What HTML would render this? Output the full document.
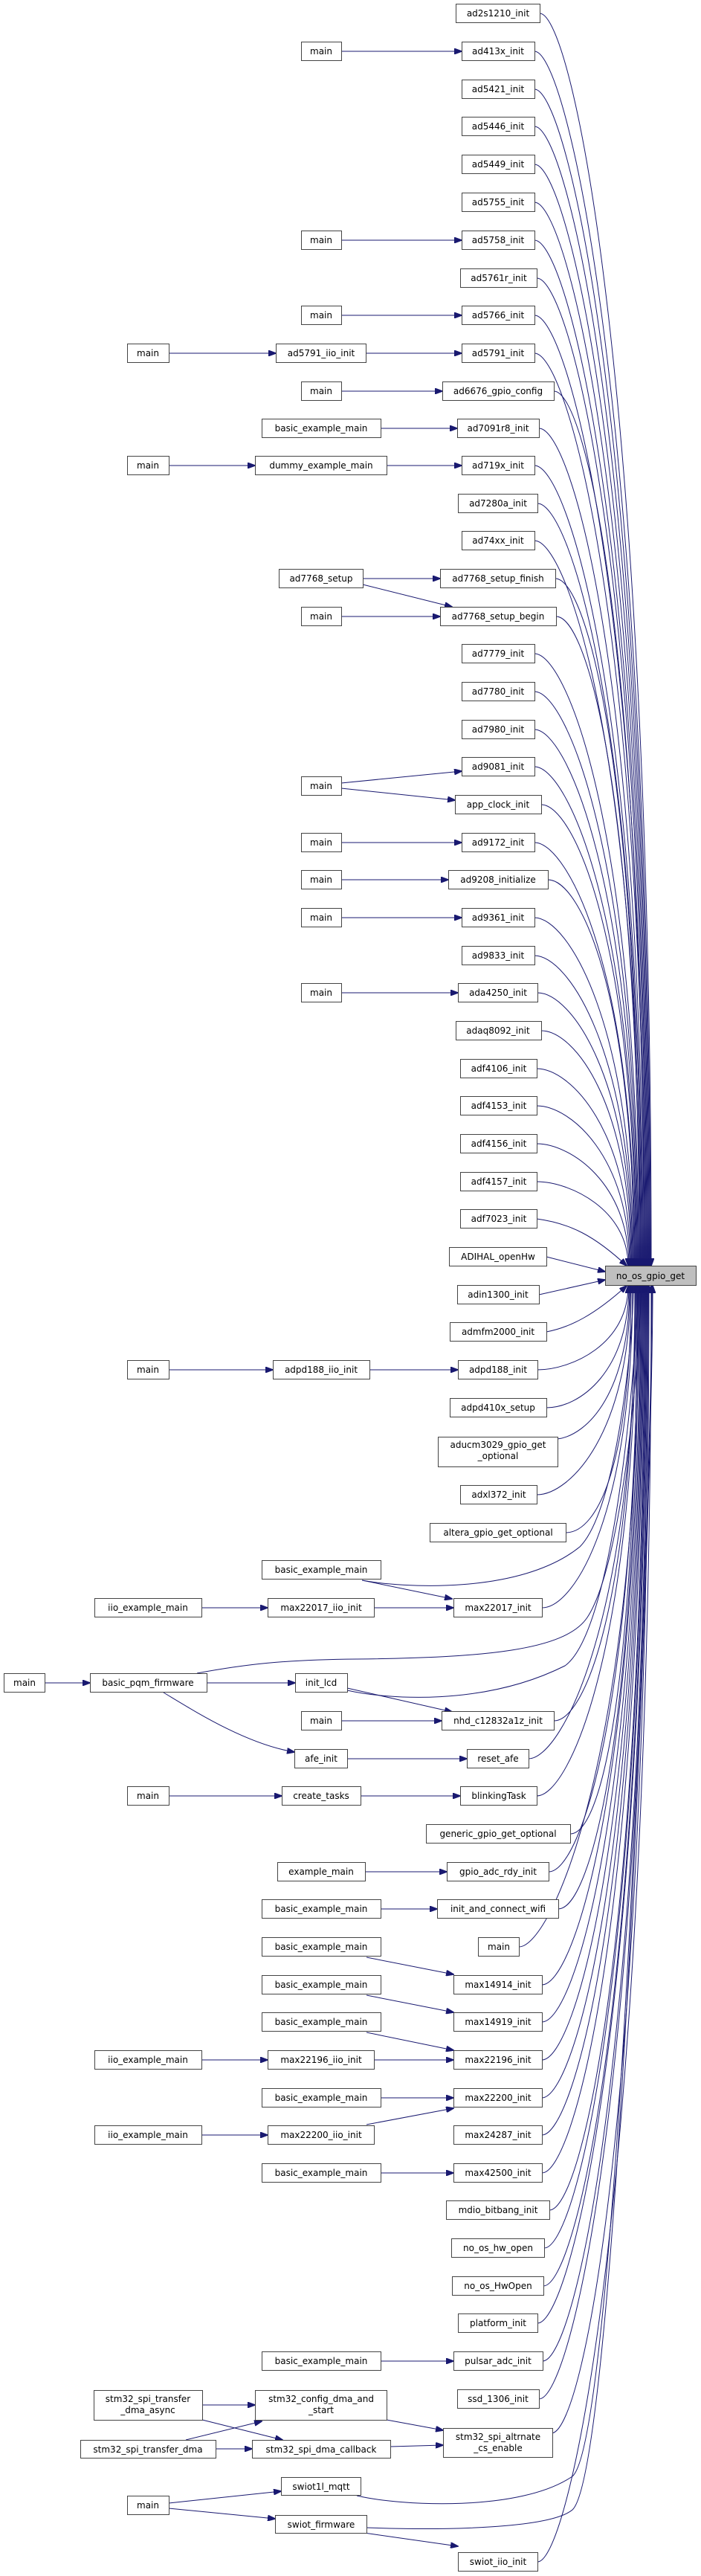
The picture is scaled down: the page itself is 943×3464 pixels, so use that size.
<!DOCTYPE html>
<html><head><meta charset="utf-8"><style>
html,body{margin:0;padding:0;background:#fff}
svg{display:block}
text{font-family:"DejaVu Sans","Liberation Sans",sans-serif;font-size:12px;fill:#000;text-anchor:middle}
.n{fill:#fff;stroke:#444;stroke-width:1}
.e{fill:none;stroke:#191970;stroke-width:1}
</style></head><body>
<svg width="943" height="3464" viewBox="0 0 943 3464" xmlns="http://www.w3.org/2000/svg">
<defs><marker id="a" markerWidth="11" markerHeight="8" refX="10" refY="4" orient="auto" markerUnits="userSpaceOnUse"><path d="M0,0L11,4L0,8z" fill="#191970" stroke="#191970"/></marker></defs>
<g class="e" marker-end="url(#a)">
<path d="M726,18C771,18 876,527 876,1702"/>
<path d="M719,69C764,69 875,563 875,1702"/>
<path d="M719,120C764,120 874,599 874,1702"/>
<path d="M719,170C764,170 873,634 873,1702"/>
<path d="M719,221C764,221 872,669 872,1702"/>
<path d="M719,272C764,272 871,705 871,1702"/>
<path d="M719,323C764,323 870,741 870,1702"/>
<path d="M722,374C767,374 869,776 869,1702"/>
<path d="M719,424C764,424 868,811 868,1702"/>
<path d="M719,475C764,475 867,847 867,1702"/>
<path d="M745,526C790,526 866,883 866,1702"/>
<path d="M725,576C770,576 865,918 865,1702"/>
<path d="M719,626C764,626 864,953 864,1702"/>
<path d="M723,677C768,677 863,988 863,1702"/>
<path d="M719,727C764,727 862,1023 862,1702"/>
<path d="M747,778C792,778 861,1059 861,1702"/>
<path d="M748,829C793,829 860,1095 860,1702"/>
<path d="M719,879C764,879 859,1130 859,1702"/>
<path d="M719,930C764,930 858,1166 858,1702"/>
<path d="M719,981C764,981 857,1201 857,1702"/>
<path d="M719,1031C764,1031 856,1236 856,1702"/>
<path d="M728,1082C773,1082 855,1272 855,1702"/>
<path d="M719,1133C764,1133 854,1308 854,1702"/>
<path d="M737,1183C782,1183 853,1343 853,1702"/>
<path d="M719,1234C764,1234 852,1378 852,1702"/>
<path d="M719,1285C764,1285 851,1414 851,1702"/>
<path d="M723,1335C768,1335 850,1449 850,1702"/>
<path d="M728,1386C773,1386 849,1485 849,1702"/>
<path d="M722,1437C767,1437 848,1520 848,1702"/>
<path d="M722,1487C767,1487 847,1555 847,1702"/>
<path d="M722,1538C767,1538 846,1591 846,1702"/>
<path d="M722,1589C767,1589 845,1627 845,1702"/>
<path d="M722,1639C767,1645 800,1662 843,1702"/>
<path d="M735,1690L814,1710"/>
<path d="M725,1741L814,1721"/>
<path d="M735,1791C767,1785 800,1768 843,1729"/>
<path d="M723,1842C768,1842 845,1808 845,1729"/>
<path d="M735,1893C780,1893 846,1844 846,1729"/>
<path d="M750,1935C790,1930 847,1873 847,1729"/>
<path d="M722,2010C767,2010 848,1926 848,1729"/>
<path d="M761,2061C806,2061 849,1961 849,1729"/>
<path d="M729,2162C774,2162 851,2032 851,1729"/>
<path d="M745,2314C790,2314 854,2138 854,1729"/>
<path d="M711,2365C756,2365 855,2174 855,1729"/>
<path d="M722,2415C767,2415 856,2209 856,1729"/>
<path d="M767,2466C812,2466 857,2245 857,1729"/>
<path d="M738,2517C783,2517 858,2281 858,1729"/>
<path d="M751,2567C796,2567 859,2316 859,1729"/>
<path d="M698,2618C743,2618 860,2351 860,1729"/>
<path d="M729,2669C774,2669 861,2387 861,1729"/>
<path d="M729,2719C774,2719 862,2422 862,1729"/>
<path d="M729,2770C774,2770 863,2458 863,1729"/>
<path d="M729,2821C774,2821 864,2493 864,1729"/>
<path d="M729,2871C774,2871 865,2528 865,1729"/>
<path d="M729,2922C774,2922 866,2564 866,1729"/>
<path d="M739,2972C784,2972 867,2599 867,1729"/>
<path d="M732,3023C777,3023 868,2635 868,1729"/>
<path d="M731,3074C776,3074 869,2670 869,1729"/>
<path d="M723,3124C768,3124 870,2705 870,1729"/>
<path d="M730,3175C775,3175 871,2741 871,1729"/>
<path d="M725,3226C770,3226 872,2777 872,1729"/>
<path d="M743,3272C788,3262 873,2809 873,1729"/>
<path d="M723,3445C768,3445 876,2930 876,1729"/>
<path d="M487,2125C540,2135 700,2145 780,2080C830,2030 852,1800 852,1729"/>
<path d="M265,2250C330,2238 380,2232 480,2231C650,2229 760,2220 790,2175C840,2100 862,1800 862,1729"/>
<path d="M467,2273C520,2285 650,2295 760,2240C830,2190 858,1800 858,1729"/>
<path d="M480,3356C540,3370 700,3378 770,3330C830,3280 877,2000 877,1729"/>
<path d="M493,3399C600,3403 740,3400 770,3375C830,3320 878,2000 878,1729"/>
<path d="M459,69L621,69"/>
<path d="M459,323L621,323"/>
<path d="M459,424L621,424"/>
<path d="M227,475L371,475"/>
<path d="M492,475L621,475"/>
<path d="M459,526L595,526"/>
<path d="M512,576L615,576"/>
<path d="M227,626L343,626"/>
<path d="M520,626L621,626"/>
<path d="M488,778L592,778"/>
<path d="M488,786L608,816"/>
<path d="M459,829L592,829"/>
<path d="M459,1053L621,1037"/>
<path d="M459,1060L612,1076"/>
<path d="M459,1133L621,1133"/>
<path d="M459,1183L603,1183"/>
<path d="M459,1234L621,1234"/>
<path d="M459,1335L616,1335"/>
<path d="M227,1842L367,1842"/>
<path d="M497,1842L616,1842"/>
<path d="M487,2125L608,2150"/>
<path d="M271,2162L360,2162"/>
<path d="M503,2162L610,2162"/>
<path d="M60,2263L121,2263"/>
<path d="M278,2263L397,2263"/>
<path d="M220,2276C260,2300 330,2345 396,2356"/>
<path d="M467,2270L608,2302"/>
<path d="M459,2314L594,2314"/>
<path d="M467,2365L628,2365"/>
<path d="M227,2415L379,2415"/>
<path d="M485,2415L619,2415"/>
<path d="M491,2517L601,2517"/>
<path d="M512,2567L588,2567"/>
<path d="M493,2632L610,2655"/>
<path d="M493,2683L610,2706"/>
<path d="M493,2733L610,2757"/>
<path d="M271,2770L360,2770"/>
<path d="M503,2770L610,2770"/>
<path d="M512,2821L610,2821"/>
<path d="M271,2871L360,2871"/>
<path d="M493,2857L610,2835"/>
<path d="M512,2922L610,2922"/>
<path d="M512,3175L610,3175"/>
<path d="M272,3234L343,3234"/>
<path d="M272,3254L380,3281"/>
<path d="M250,3281L352,3256"/>
<path d="M290,3293L339,3293"/>
<path d="M520,3254L596,3268"/>
<path d="M525,3290L596,3288"/>
<path d="M227,3366L378,3350"/>
<path d="M227,3373L370,3387"/>
<path d="M490,3406L616,3424"/>
</g>
<g>
<rect class="n" x="814.5" y="1702.5" width="122" height="26" style="fill:#bfbfbf"/><text x="875" y="1720">no_os_gpio_get</text>
<rect class="n" x="613.5" y="5.5" width="113" height="25"/><text x="670" y="22">ad2s1210_init</text>
<rect class="n" x="621.5" y="56.5" width="98" height="25"/><text x="670" y="73">ad413x_init</text>
<rect class="n" x="621.5" y="107.5" width="98" height="25"/><text x="670" y="124">ad5421_init</text>
<rect class="n" x="621.5" y="157.5" width="98" height="25"/><text x="670" y="174">ad5446_init</text>
<rect class="n" x="621.5" y="208.5" width="98" height="25"/><text x="670" y="225">ad5449_init</text>
<rect class="n" x="621.5" y="259.5" width="98" height="25"/><text x="670" y="276">ad5755_init</text>
<rect class="n" x="621.5" y="310.5" width="98" height="25"/><text x="670" y="327">ad5758_init</text>
<rect class="n" x="619.5" y="361.5" width="103" height="25"/><text x="671" y="378">ad5761r_init</text>
<rect class="n" x="621.5" y="411.5" width="98" height="25"/><text x="670" y="428">ad5766_init</text>
<rect class="n" x="621.5" y="462.5" width="98" height="25"/><text x="670" y="479">ad5791_init</text>
<rect class="n" x="595.5" y="513.5" width="150" height="25"/><text x="670" y="530">ad6676_gpio_config</text>
<rect class="n" x="615.5" y="563.5" width="110" height="25"/><text x="670" y="580">ad7091r8_init</text>
<rect class="n" x="621.5" y="613.5" width="98" height="25"/><text x="670" y="630">ad719x_init</text>
<rect class="n" x="616.5" y="664.5" width="107" height="25"/><text x="670" y="681">ad7280a_init</text>
<rect class="n" x="621.5" y="714.5" width="98" height="25"/><text x="670" y="731">ad74xx_init</text>
<rect class="n" x="592.5" y="765.5" width="155" height="25"/><text x="670" y="782">ad7768_setup_finish</text>
<rect class="n" x="592.5" y="816.5" width="156" height="25"/><text x="670" y="833">ad7768_setup_begin</text>
<rect class="n" x="621.5" y="866.5" width="98" height="25"/><text x="670" y="883">ad7779_init</text>
<rect class="n" x="621.5" y="917.5" width="98" height="25"/><text x="670" y="934">ad7780_init</text>
<rect class="n" x="621.5" y="968.5" width="98" height="25"/><text x="670" y="985">ad7980_init</text>
<rect class="n" x="621.5" y="1018.5" width="98" height="25"/><text x="670" y="1035">ad9081_init</text>
<rect class="n" x="612.5" y="1069.5" width="116" height="25"/><text x="670" y="1086">app_clock_init</text>
<rect class="n" x="621.5" y="1120.5" width="98" height="25"/><text x="670" y="1137">ad9172_init</text>
<rect class="n" x="603.5" y="1170.5" width="134" height="25"/><text x="670" y="1187">ad9208_initialize</text>
<rect class="n" x="621.5" y="1221.5" width="98" height="25"/><text x="670" y="1238">ad9361_init</text>
<rect class="n" x="621.5" y="1272.5" width="98" height="25"/><text x="670" y="1289">ad9833_init</text>
<rect class="n" x="616.5" y="1322.5" width="107" height="25"/><text x="670" y="1339">ada4250_init</text>
<rect class="n" x="613.5" y="1373.5" width="115" height="25"/><text x="670" y="1390">adaq8092_init</text>
<rect class="n" x="619.5" y="1424.5" width="103" height="25"/><text x="671" y="1441">adf4106_init</text>
<rect class="n" x="619.5" y="1474.5" width="103" height="25"/><text x="671" y="1491">adf4153_init</text>
<rect class="n" x="619.5" y="1525.5" width="103" height="25"/><text x="671" y="1542">adf4156_init</text>
<rect class="n" x="619.5" y="1576.5" width="103" height="25"/><text x="671" y="1593">adf4157_init</text>
<rect class="n" x="619.5" y="1626.5" width="103" height="25"/><text x="671" y="1643">adf7023_init</text>
<rect class="n" x="604.5" y="1677.5" width="131" height="25"/><text x="670" y="1694">ADIHAL_openHw</text>
<rect class="n" x="615.5" y="1728.5" width="110" height="25"/><text x="670" y="1745">adin1300_init</text>
<rect class="n" x="605.5" y="1778.5" width="130" height="25"/><text x="670" y="1795">admfm2000_init</text>
<rect class="n" x="616.5" y="1829.5" width="107" height="25"/><text x="670" y="1846">adpd188_init</text>
<rect class="n" x="605.5" y="1880.5" width="130" height="25"/><text x="670" y="1897">adpd410x_setup</text>
<rect class="n" x="589.5" y="1932.5" width="161" height="40"/><text x="670" y="1947">aducm3029_gpio_get</text><text x="670" y="1962">_optional</text>
<rect class="n" x="619.5" y="1997.5" width="103" height="25"/><text x="671" y="2014">adxl372_init</text>
<rect class="n" x="578.5" y="2048.5" width="183" height="25"/><text x="670" y="2065">altera_gpio_get_optional</text>
<rect class="n" x="610.5" y="2149.5" width="119" height="25"/><text x="670" y="2166">max22017_init</text>
<rect class="n" x="594.5" y="2301.5" width="151" height="25"/><text x="670" y="2318">nhd_c12832a1z_init</text>
<rect class="n" x="628.5" y="2352.5" width="83" height="25"/><text x="670" y="2369">reset_afe</text>
<rect class="n" x="619.5" y="2402.5" width="103" height="25"/><text x="671" y="2419">blinkingTask</text>
<rect class="n" x="573.5" y="2453.5" width="194" height="25"/><text x="670" y="2470">generic_gpio_get_optional</text>
<rect class="n" x="601.5" y="2504.5" width="137" height="25"/><text x="670" y="2521">gpio_adc_rdy_init</text>
<rect class="n" x="588.5" y="2554.5" width="163" height="25"/><text x="670" y="2571">init_and_connect_wifi</text>
<rect class="n" x="643.5" y="2605.5" width="55" height="25"/><text x="671" y="2622">main</text>
<rect class="n" x="610.5" y="2656.5" width="119" height="25"/><text x="670" y="2673">max14914_init</text>
<rect class="n" x="610.5" y="2706.5" width="119" height="25"/><text x="670" y="2723">max14919_init</text>
<rect class="n" x="610.5" y="2757.5" width="119" height="25"/><text x="670" y="2774">max22196_init</text>
<rect class="n" x="610.5" y="2808.5" width="119" height="25"/><text x="670" y="2825">max22200_init</text>
<rect class="n" x="610.5" y="2858.5" width="119" height="25"/><text x="670" y="2875">max24287_init</text>
<rect class="n" x="610.5" y="2909.5" width="119" height="25"/><text x="670" y="2926">max42500_init</text>
<rect class="n" x="600.5" y="2959.5" width="139" height="25"/><text x="670" y="2976">mdio_bitbang_init</text>
<rect class="n" x="607.5" y="3010.5" width="125" height="25"/><text x="670" y="3027">no_os_hw_open</text>
<rect class="n" x="608.5" y="3061.5" width="123" height="25"/><text x="670" y="3078">no_os_HwOpen</text>
<rect class="n" x="616.5" y="3111.5" width="107" height="25"/><text x="670" y="3128">platform_init</text>
<rect class="n" x="610.5" y="3162.5" width="120" height="25"/><text x="670" y="3179">pulsar_adc_init</text>
<rect class="n" x="615.5" y="3213.5" width="110" height="25"/><text x="670" y="3230">ssd_1306_init</text>
<rect class="n" x="596.5" y="3265.5" width="147" height="39"/><text x="670" y="3281">stm32_spi_altrnate</text><text x="670" y="3296">_cs_enable</text>
<rect class="n" x="616.5" y="3432.5" width="107" height="25"/><text x="670" y="3449">swiot_iio_init</text>

<rect class="n" x="405.5" y="56.5" width="54" height="25"/><text x="432" y="73">main</text>
<rect class="n" x="405.5" y="310.5" width="54" height="25"/><text x="432" y="327">main</text>
<rect class="n" x="405.5" y="411.5" width="54" height="25"/><text x="432" y="428">main</text>
<rect class="n" x="371.5" y="462.5" width="121" height="25"/><text x="432" y="479">ad5791_iio_init</text>
<rect class="n" x="171.5" y="462.5" width="56" height="25"/><text x="199" y="479">main</text>
<rect class="n" x="405.5" y="513.5" width="54" height="25"/><text x="432" y="530">main</text>
<rect class="n" x="352.5" y="563.5" width="160" height="25"/><text x="432" y="580">basic_example_main</text>
<rect class="n" x="343.5" y="613.5" width="177" height="25"/><text x="432" y="630">dummy_example_main</text>
<rect class="n" x="171.5" y="613.5" width="56" height="25"/><text x="199" y="630">main</text>
<rect class="n" x="375.5" y="765.5" width="113" height="25"/><text x="432" y="782">ad7768_setup</text>
<rect class="n" x="405.5" y="816.5" width="54" height="25"/><text x="432" y="833">main</text>
<rect class="n" x="405.5" y="1044.5" width="54" height="25"/><text x="432" y="1061">main</text>
<rect class="n" x="405.5" y="1120.5" width="54" height="25"/><text x="432" y="1137">main</text>
<rect class="n" x="405.5" y="1170.5" width="54" height="25"/><text x="432" y="1187">main</text>
<rect class="n" x="405.5" y="1221.5" width="54" height="25"/><text x="432" y="1238">main</text>
<rect class="n" x="405.5" y="1322.5" width="54" height="25"/><text x="432" y="1339">main</text>
<rect class="n" x="367.5" y="1829.5" width="130" height="25"/><text x="432" y="1846">adpd188_iio_init</text>
<rect class="n" x="171.5" y="1829.5" width="56" height="25"/><text x="199" y="1846">main</text>
<rect class="n" x="352.5" y="2098.5" width="160" height="25"/><text x="432" y="2115">basic_example_main</text>
<rect class="n" x="360.5" y="2149.5" width="143" height="25"/><text x="432" y="2166">max22017_iio_init</text>
<rect class="n" x="127.5" y="2149.5" width="144" height="25"/><text x="199" y="2166">iio_example_main</text>
<rect class="n" x="5.5" y="2250.5" width="55" height="25"/><text x="33" y="2267">main</text>
<rect class="n" x="121.5" y="2250.5" width="157" height="25"/><text x="199" y="2267">basic_pqm_firmware</text>
<rect class="n" x="397.5" y="2250.5" width="70" height="25"/><text x="432" y="2267">init_lcd</text>
<rect class="n" x="405.5" y="2301.5" width="54" height="25"/><text x="432" y="2318">main</text>
<rect class="n" x="396.5" y="2352.5" width="71" height="25"/><text x="432" y="2369">afe_init</text>
<rect class="n" x="171.5" y="2402.5" width="56" height="25"/><text x="199" y="2419">main</text>
<rect class="n" x="379.5" y="2402.5" width="106" height="25"/><text x="432" y="2419">create_tasks</text>
<rect class="n" x="373.5" y="2504.5" width="118" height="25"/><text x="432" y="2521">example_main</text>
<rect class="n" x="352.5" y="2554.5" width="160" height="25"/><text x="432" y="2571">basic_example_main</text>
<rect class="n" x="352.5" y="2605.5" width="160" height="25"/><text x="432" y="2622">basic_example_main</text>
<rect class="n" x="352.5" y="2656.5" width="160" height="25"/><text x="432" y="2673">basic_example_main</text>
<rect class="n" x="352.5" y="2706.5" width="160" height="25"/><text x="432" y="2723">basic_example_main</text>
<rect class="n" x="360.5" y="2757.5" width="143" height="25"/><text x="432" y="2774">max22196_iio_init</text>
<rect class="n" x="127.5" y="2757.5" width="144" height="25"/><text x="199" y="2774">iio_example_main</text>
<rect class="n" x="352.5" y="2808.5" width="160" height="25"/><text x="432" y="2825">basic_example_main</text>
<rect class="n" x="360.5" y="2858.5" width="143" height="25"/><text x="432" y="2875">max22200_iio_init</text>
<rect class="n" x="127.5" y="2858.5" width="144" height="25"/><text x="199" y="2875">iio_example_main</text>
<rect class="n" x="352.5" y="2909.5" width="160" height="25"/><text x="432" y="2926">basic_example_main</text>
<rect class="n" x="352.5" y="3162.5" width="160" height="25"/><text x="432" y="3179">basic_example_main</text>
<rect class="n" x="126.5" y="3214.5" width="146" height="40"/><text x="199" y="3230">stm32_spi_transfer</text><text x="199" y="3245">_dma_async</text>
<rect class="n" x="343.5" y="3214.5" width="177" height="40"/><text x="432" y="3230">stm32_config_dma_and</text><text x="432" y="3245">_start</text>
<rect class="n" x="108.5" y="3281.5" width="182" height="24"/><text x="199" y="3298">stm32_spi_transfer_dma</text>
<rect class="n" x="339.5" y="3281.5" width="186" height="24"/><text x="432" y="3298">stm32_spi_dma_callback</text>
<rect class="n" x="378.5" y="3331.5" width="107" height="24"/><text x="432" y="3348">swiot1l_mqtt</text>
<rect class="n" x="171.5" y="3356.5" width="56" height="25"/><text x="199" y="3373">main</text>
<rect class="n" x="370.5" y="3382.5" width="123" height="24"/><text x="432" y="3399">swiot_firmware</text>
</g>
</svg>
</body></html>
